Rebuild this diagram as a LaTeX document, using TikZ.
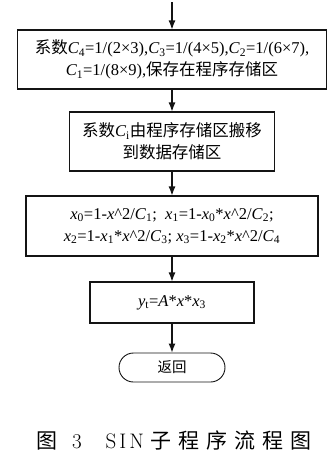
\documentclass[tikz,border=0pt]{standalone}
\usepackage{fontspec}
\newfontfamily\cjk{Noto Sans CJK SC}
\newfontfamily\tnr{Liberation Serif}
\usetikzlibrary{arrows.meta,positioning,shapes.misc}
\usepackage{xcolor}
\definecolor{lineblack}{RGB}{20,20,20}
\newcommand{\vr}[2]{\textit{#1}\textsubscript{#2}}

\begin{document}
\begin{tikzpicture}[x=1pt,y=-1pt,font=\fontsize{16.5}{22}\selectfont\tnr,
  procbox/.style={draw=lineblack,line width=1.1pt,align=center,inner sep=0pt},
  endbox/.style={draw=lineblack,line width=0.9pt,rounded rectangle,inner sep=0pt,
    minimum width=106pt,minimum height=29pt},
  flow/.style={draw=lineblack,line width=1.1pt,-{Latex[length=9pt,width=7pt]}}]
\useasboundingbox (0,0) rectangle (335,459);
\coordinate (start) at (172,2);
% boxes
\node[procbox,minimum width=309pt,minimum height=59pt] (coef) at (172,59.5)
  {{\cjk 系数}\vr{C}{4}=1/(2×3),\vr{C}{3}=1/(4×5),\vr{C}{2}=1/(6×7),\\
   \vr{C}{1}=1/(8×9),{\cjk 保存在程序存储区}};
\node[procbox,minimum width=205pt,minimum height=59pt] (move) at (172,141.5)
  {{\cjk 系数}\vr{C}{i}{\cjk 由程序存储区搬移}\\{\cjk 到数据存储区}};
\node[procbox,minimum width=292pt,minimum height=60pt] (poly) at (172,226)
  {\vr{x}{0}=1-\textit{x}\^{}2/\vr{C}{1};\ \ \vr{x}{1}=1-\vr{x}{0}*\textit{x}\^{}2/\vr{C}{2};\\
   \vr{x}{2}=1-\vr{x}{1}*\textit{x}\^{}2/\vr{C}{3}; \vr{x}{3}=1-\vr{x}{2}*\textit{x}\^{}2/\vr{C}{4}};
\node[procbox,minimum width=164pt,minimum height=41pt] (outy) at (172,302.5)
  {\vr{y}{t}=\textit{A}*\textit{x}*\vr{x}{3}};
\node[endbox] (ret) at (172,367.5) {\cjk\fontsize{14.5}{16}\selectfont 返回};
% arrows
\draw[flow] (start) -- (coef);
\draw[flow] (coef) -- (move);
\draw[flow] (move) -- (poly);
\draw[flow] (poly) -- (outy);
\draw[flow] (outy) -- (ret);
\node[font=\fontsize{21}{24}\selectfont] (cap) at (174,440)
  {{\cjk 图}\hspace{15pt}3\hspace{24pt}S\kern3pt I\kern3pt N\hspace{7pt}{\cjk 子\hspace{7pt}程\hspace{7pt}序\hspace{7pt}流\hspace{7pt}程\hspace{7pt}图}};
\end{tikzpicture}
\end{document}
